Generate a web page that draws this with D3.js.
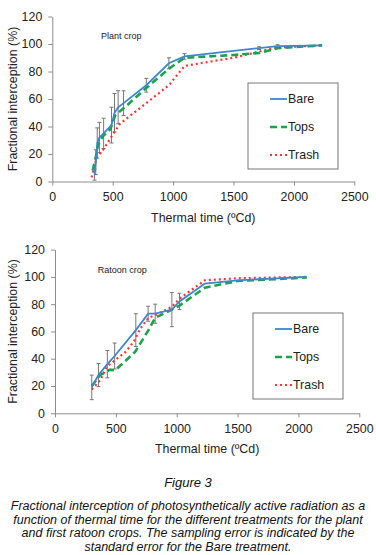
<!DOCTYPE html>
<html>
<head>
<meta charset="utf-8">
<script src="https://cdn.jsdelivr.net/npm/d3@7"></script>
<style>
  body { margin: 0; background: #fff; }
  svg { display: block; font-family: "Liberation Sans", Arial, sans-serif; }
</style>
</head>
<body>
<div id="chart"></div>
<script>
// ---- data ----
var xTicks = [0, 500, 1000, 1500, 2000, 2500];
var yTicks = [0, 20, 40, 60, 80, 100, 120];
var seriesNames = ['Bare', 'Tops', 'Trash'];

// plant crop
var plantBareX = [350, 360, 372, 390, 425, 490, 515, 545, 590, 778, 965, 1094, 1712, 1865, 2234];
var plantBareY = [5, 14, 28, 32, 35, 41, 50, 54, 57, 70, 86, 91, 97, 98.5, 99];
var plantBareErr = [4, 9, 11, 11, 11, 13, 14, 12, 9, 5, 4, 2, 1, 1, 0];
var plantTopsX = [335, 360, 380, 420, 480, 520, 600, 778, 965, 1094, 1500, 1712, 1865, 2234];
var plantTopsY = [8, 18, 27, 33, 38, 48, 54, 68, 82, 90, 92, 93.5, 97, 99];
var plantTrashX = [325, 350, 372, 420, 500, 560, 778, 965, 1094, 1500, 1712, 1865, 2234];
var plantTrashY = [3, 12, 18, 23, 34, 42, 57, 70, 84, 90, 94.5, 97.5, 99];

// ratoon crop
var ratoonBareX = [302, 357, 430, 490, 664, 765, 823, 960, 1023, 1230, 1500, 2068];
var ratoonBareY = [19, 28, 36, 42, 61, 73, 73, 76, 82, 95, 97.5, 100];
var ratoonBareErr = [9, 8.5, 10, 9.5, 12, 5.5, 7, 12.5, 6, 0, 0, 0];
var ratoonTopsX = [302, 370, 453, 494, 658, 768, 823, 960, 1023, 1230, 1500, 2068];
var ratoonTopsY = [20, 28, 32, 31.5, 45, 61, 70, 76, 79, 92, 97, 99.5];
var ratoonTrashX = [302, 370, 425, 494, 580, 650, 700, 768, 823, 960, 1023, 1230, 1500, 2068];
var ratoonTrashY = [17.5, 24, 34, 39, 45, 53, 62, 70, 72, 78, 84, 97.5, 99, 100];

var captionTitle = 'Figure 3';
var captionLines = [
  'Fractional interception of photosynthetically active radiation as a',
  'function of thermal time for the different treatments for the plant',
  'and first ratoon crops. The sampling error is indicated by the',
  'standard error for the Bare treatment.'
];

var colors = { Bare: '#3d87cf', Tops: '#1aa34a', Trash: '#ff3333' };

var svg = d3.select('#chart').append('svg')
  .attr('width', 376)
  .attr('height', 555);

function zip(xs, ys, es) {
  return xs.map(function (x, i) { return { x: x, y: ys[i], e: es ? es[i] : 0 }; });
}

function drawPanel(p) {
  var x = d3.scaleLinear().domain([0, 2500]).range([p.left, p.right]);
  var y = d3.scaleLinear().domain([0, 120]).range([p.bottom, p.top]);
  var g = svg.append('g');

  var xAxis = g.append('g')
    .attr('transform', 'translate(0,' + p.bottom + ')')
    .call(d3.axisBottom(x).tickValues(xTicks).tickFormat(d3.format('d'))
      .tickSize(4).tickPadding(7).tickSizeOuter(0));
  var yAxis = g.append('g')
    .attr('transform', 'translate(' + p.left + ',0)')
    .call(d3.axisLeft(y).tickValues(yTicks).tickFormat(d3.format('d'))
      .tickSize(4).tickPadding(6).tickSizeOuter(0));
  [xAxis, yAxis].forEach(function (a) {
    a.select('.domain').attr('stroke', '#8c8c8c');
    a.selectAll('line').attr('stroke', '#8c8c8c');
    a.selectAll('text').attr('fill', '#222').style('font-size', '12.4px')
      .style('font-family', '"Liberation Sans", Arial, sans-serif');
  });

  // axis titles
  g.append('text')
    .attr('x', (p.left + p.right) / 2)
    .attr('y', p.bottom + 40)
    .attr('text-anchor', 'middle')
    .style('font-size', '12.4px').attr('fill', '#222')
    .text('Thermal time (ºCd)');
  g.append('text')
    .attr('transform', 'translate(17,' + (p.top + p.bottom) / 2 + ') rotate(-90)')
    .attr('text-anchor', 'middle')
    .style('font-size', '12.4px').attr('fill', '#222')
    .text('Fractional interception (%)');

  g.append('text')
    .attr('x', p.labelX).attr('y', p.labelY)
    .style('font-size', '9px').attr('fill', '#222')
    .text(p.label);

  var line = d3.line().x(function (d) { return x(d.x); }).y(function (d) { return y(d.y); });

  // error bars for Bare
  var eb = g.append('g').attr('stroke', '#777').attr('stroke-width', 1);
  p.bare.filter(function (d) { return d.e > 0; }).forEach(function (d) {
    var cx = x(d.x);
    eb.append('line').attr('x1', cx).attr('x2', cx).attr('y1', y(d.y - d.e)).attr('y2', y(d.y + d.e));
    eb.append('line').attr('x1', cx - 2).attr('x2', cx + 2).attr('y1', y(d.y - d.e)).attr('y2', y(d.y - d.e));
    eb.append('line').attr('x1', cx - 2).attr('x2', cx + 2).attr('y1', y(d.y + d.e)).attr('y2', y(d.y + d.e));
  });

  g.append('path').datum(p.trash).attr('d', line)
    .attr('fill', 'none').attr('stroke', colors.Trash).attr('stroke-width', 2.2)
    .attr('stroke-dasharray', '2,3');
  g.append('path').datum(p.tops).attr('d', line)
    .attr('fill', 'none').attr('stroke', colors.Tops).attr('stroke-width', 2.6)
    .attr('stroke-dasharray', '7,4');
  g.append('path').datum(p.bare).attr('d', line)
    .attr('fill', 'none').attr('stroke', colors.Bare).attr('stroke-width', 1.8);

  // legend
  var lg = g.append('g');
  lg.append('rect')
    .attr('x', p.legX).attr('y', p.legY).attr('width', 90).attr('height', 86)
    .attr('fill', '#fff').attr('stroke', '#777');
  var dash = { Bare: null, Tops: '7,4', Trash: '2,3' };
  var sw = { Bare: 1.8, Tops: 2.6, Trash: 2.2 };
  seriesNames.forEach(function (name, i) {
    var yy = p.legY + 16 + i * 28;
    lg.append('line')
      .attr('x1', p.legX + 22).attr('x2', p.legX + 39)
      .attr('y1', yy).attr('y2', yy)
      .attr('stroke', colors[name]).attr('stroke-width', sw[name])
      .attr('stroke-dasharray', dash[name]);
    lg.append('text')
      .attr('x', p.legX + 40).attr('y', yy + 4)
      .style('font-size', '12.4px').attr('fill', '#222')
      .text(name);
  });
}

drawPanel({
  left: 52.3, right: 354.3, top: 16.5, bottom: 181.5,
  label: 'Plant crop', labelX: 101, labelY: 39,
  legX: 248, legY: 83,
  bare: zip(plantBareX, plantBareY, plantBareErr),
  tops: zip(plantTopsX, plantTopsY),
  trash: zip(plantTrashX, plantTrashY)
});

drawPanel({
  left: 55, right: 359.3, top: 249.6, bottom: 413.3,
  label: 'Ratoon crop', labelX: 97.7, labelY: 272.5,
  legX: 253, legY: 313,
  bare: zip(ratoonBareX, ratoonBareY, ratoonBareErr),
  tops: zip(ratoonTopsX, ratoonTopsY),
  trash: zip(ratoonTrashX, ratoonTrashY)
});

// caption
svg.append('text')
  .attr('x', 188).attr('y', 487)
  .attr('text-anchor', 'middle')
  .style('font-size', '13px').style('font-style', 'italic').attr('fill', '#111')
  .text(captionTitle);
svg.selectAll('.cap').data(captionLines).enter().append('text')
  .attr('class', 'cap')
  .attr('x', 188)
  .attr('y', function (d, i) { return 510 + i * 13.5; })
  .attr('text-anchor', 'middle')
  .style('font-size', '12.5px').style('font-style', 'italic').attr('fill', '#111')
  .text(function (d) { return d; });
</script>
</body>
</html>
